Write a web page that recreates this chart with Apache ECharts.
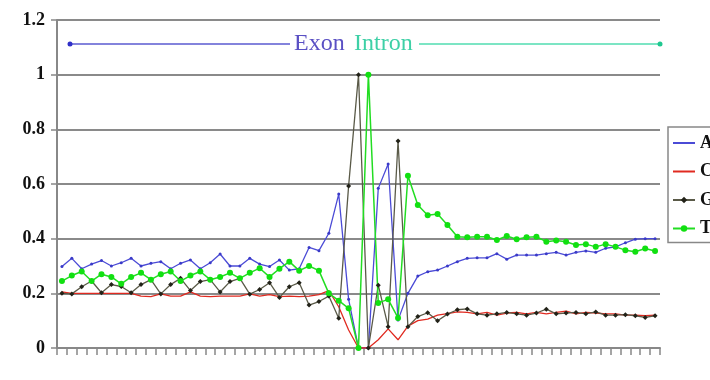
<!DOCTYPE html>
<html>
<head>
<meta charset="utf-8">
<script src="https://cdn.jsdelivr.net/npm/echarts@6/dist/echarts.min.js"></script>
<style>html,body{margin:0;padding:0;background:#fff;}#c{width:710px;height:380px;}</style>
</head>
<body>
<div id="c"></div>
<script>
// Positions 1..61
const categories = Array.from({length: 61}, (_, i) => String(i + 1));
const yTicks = ['0', '0.2', '0.4', '0.6', '0.8', '1', '1.2'];

const seriesA = [0.298,0.328,0.29,0.307,0.32,0.30,0.312,0.328,0.30,0.31,
  0.316,0.29,0.31,0.322,0.29,0.312,0.344,0.30,0.30,0.328,
  0.307,0.298,0.322,0.285,0.29,0.368,0.356,0.42,0.563,0.178,
  0,0,0.584,0.673,0.102,0.2,0.263,0.279,0.285,0.30,
  0.316,0.328,0.33,0.33,0.345,0.325,0.34,0.34,0.34,0.345,
  0.35,0.34,0.35,0.355,0.35,0.365,0.37,0.385,0.398,0.4,0.4];

const seriesC = [0.205,0.2,0.2,0.2,0.2,0.2,0.2,0.2,0.19,0.188,
  0.198,0.19,0.19,0.205,0.19,0.188,0.19,0.19,0.19,0.198,
  0.19,0.195,0.188,0.19,0.188,0.19,0.195,0.21,0.151,0.066,
  0,0,0.03,0.07,0.03,0.08,0.1,0.106,0.12,0.126,
  0.132,0.13,0.125,0.13,0.12,0.128,0.13,0.125,0.13,0.125,
  0.13,0.135,0.125,0.13,0.128,0.125,0.125,0.12,0.12,0.118,0.12];

const seriesG = [0.2,0.198,0.224,0.245,0.202,0.232,0.225,0.202,0.232,0.25,
  0.198,0.232,0.255,0.21,0.243,0.25,0.205,0.243,0.255,0.197,
  0.214,0.239,0.185,0.224,0.239,0.157,0.17,0.19,0.109,0.593,
  1.0,0,0.23,0.078,0.757,0.078,0.115,0.129,0.10,0.124,
  0.14,0.143,0.125,0.12,0.125,0.13,0.125,0.12,0.128,0.142,
  0.125,0.128,0.13,0.125,0.132,0.12,0.12,0.122,0.118,0.112,0.118];

const seriesT = [0.245,0.265,0.28,0.245,0.27,0.26,0.235,0.26,0.275,0.25,
  0.27,0.28,0.245,0.265,0.28,0.25,0.26,0.275,0.255,0.275,
  0.292,0.26,0.29,0.316,0.283,0.3,0.283,0.2,0.173,0.145,
  0,1.0,0.165,0.178,0.11,0.63,0.523,0.486,0.49,0.45,
  0.407,0.405,0.407,0.407,0.395,0.41,0.398,0.405,0.407,0.389,
  0.393,0.389,0.377,0.38,0.37,0.38,0.37,0.358,0.352,0.364,0.355];

const chart = echarts.init(document.getElementById('c'), null, {renderer: 'canvas'});
const serif = '"Liberation Serif", "DejaVu Serif", serif';

chart.setOption({
  animation: false,
  backgroundColor: '#ffffff',
  grid: {left: 57, right: 50, top: 20, bottom: 32, containLabel: false},
  legend: {
    orient: 'vertical',
    left: 668, top: 127,
    itemWidth: 22, itemHeight: 8, itemGap: 10.5,
    padding: [7, 10, 5, 4],
    borderColor: '#888', borderWidth: 1.5,
    textStyle: {fontFamily: serif, fontWeight: 'bold', fontSize: 18, color: '#111', lineHeight: 18},
    data: [
      {name: 'A', itemStyle: {opacity: 0}},
      {name: 'C', itemStyle: {opacity: 0}},
      {name: 'G'},
      {name: 'T'}
    ]
  },
  xAxis: {
    type: 'category', data: categories, boundaryGap: true,
    axisLine: {lineStyle: {color: '#888', width: 2}},
    axisTick: {show: true, interval: 0, length: 7, inside: false, lineStyle: {color: '#888', width: 1.5}},
    axisLabel: {show: false},
    splitLine: {show: false}
  },
  yAxis: {
    type: 'value', min: 0, max: 1.2, interval: 0.2,
    axisLine: {show: true, lineStyle: {color: '#888', width: 2}},
    axisTick: {show: true, length: 6, lineStyle: {color: '#888', width: 1.5}},
    axisLabel: {
      margin: 12, fontFamily: serif, fontWeight: 'bold', fontSize: 18, color: '#111',
      formatter: v => yTicks[Math.round(v / 0.2)]
    },
    splitLine: {show: true, lineStyle: {color: '#8a8a8a', width: 2}}
  },
  series: [
    {name: 'A', type: 'line', data: seriesA, symbol: 'circle', symbolSize: 3,
     lineStyle: {color: '#4b4bd6', width: 1.3}, itemStyle: {color: '#3a3ac8'}},
    {name: 'C', type: 'line', data: seriesC, symbol: 'none',
     lineStyle: {color: '#e02a20', width: 1.3}, itemStyle: {color: '#e02a20'}},
    {name: 'G', type: 'line', data: seriesG, symbol: 'diamond', symbolSize: 5,
     lineStyle: {color: '#5a5a48', width: 1.3}, itemStyle: {color: '#222218'}},
    {name: 'T', type: 'line', data: seriesT, symbol: 'circle', symbolSize: 6,
     lineStyle: {color: '#22dd22', width: 1.5}, itemStyle: {color: '#11e011'}}
  ],
  graphic: [
    {type: 'line', shape: {x1: 70, y1: 44, x2: 290, y2: 44}, style: {stroke: '#5a5ad0', lineWidth: 1.5}, z: 10},
    {type: 'circle', shape: {cx: 70, cy: 44, r: 2.5}, style: {fill: '#3030c8'}, z: 10},
    {type: 'text', x: 294, y: 44, style: {text: 'Exon', fill: '#5a50c4', font: '24px ' + serif, verticalAlign: 'middle'}, z: 10},
    {type: 'text', x: 354, y: 44, style: {text: 'Intron', fill: '#3ed0a6', font: '24px ' + serif, verticalAlign: 'middle'}, z: 10},
    {type: 'line', shape: {x1: 419, y1: 44, x2: 660, y2: 44}, style: {stroke: '#50dcb0', lineWidth: 1.5}, z: 10},
    {type: 'circle', shape: {cx: 660, cy: 44, r: 2.5}, style: {fill: '#20c890'}, z: 10}
  ]
});
</script>
</body>
</html>
